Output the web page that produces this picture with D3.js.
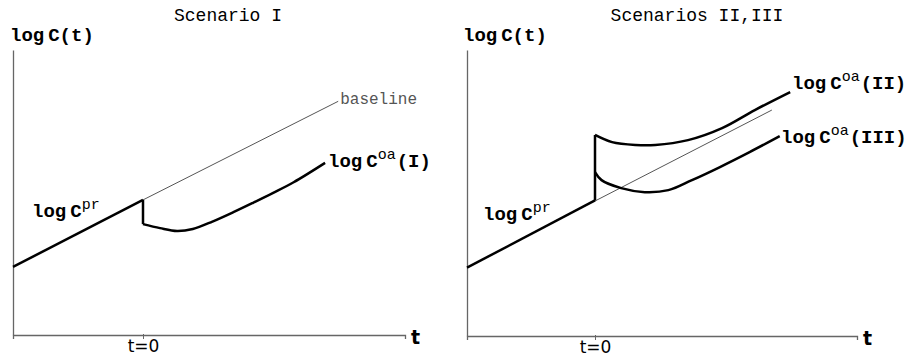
<!DOCTYPE html>
<html>
<head>
<meta charset="utf-8">
<script src="https://cdn.jsdelivr.net/npm/d3@7"></script>
<style>
  html, body { margin: 0; padding: 0; background: #fff; }
  svg { display: block; }
  .mono { font-family: "Liberation Mono", "Courier New", monospace; }
  .sans { font-family: "DejaVu Sans", "Liberation Sans", Arial, sans-serif; }
</style>
</head>
<body>
<svg id="chart" width="908" height="357"></svg>
<script>
// ---- data (t in time units, value = log C on an arbitrary scale 0..10) ----
const tDomain = [-1, 0, 2];
const logCDomain = [0, 10];

// pre-intervention trend, shared by both scenarios
const preT     = [-1, 0];
const preLogC  = [2.39, 4.74];

// Scenario I
const baseI_t    = [0, 1.49];
const baseI_logC = [4.74, 8.2];
const oaI_t      = [0, 0.13, 0.26, 0.38, 0.53, 0.69, 0.84, 0.99, 1.15, 1.39];
const oaI_logC   = [3.89, 3.75, 3.65, 3.72, 3.98, 4.31, 4.64, 4.98, 5.36, 6.04];

// Scenarios II and III
const baseII_t    = [0, 1.35];
const baseII_logC = [4.72, 7.9];
const oaII_t      = [0, 0.13, 0.31, 0.46, 0.71, 0.97, 1.22, 1.49];
const oaII_logC   = [7.03, 6.78, 6.68, 6.68, 6.85, 7.27, 7.9, 8.53];
const oaIII_t     = [0, 0.05, 0.2, 0.38, 0.56, 0.74, 0.95, 1.18, 1.41];
const oaIII_logC  = [5.73, 5.45, 5.17, 5.03, 5.1, 5.45, 5.9, 6.43, 6.99];

const tickLabels = ["t=0"];

// ---- drawing ----
const svg = d3.select("#chart");
const zip = (ts, vs) => ts.map((t, i) => [t, vs[i]]);

const panels = [
  {
    title: "Scenario I", titleX: 228,
    x: [13, 143, 405], y: [335, 50],
    base: zip(baseI_t, baseI_logC), baseLabel: "baseline",
    curves: [{ pts: zip(oaI_t, oaI_logC), label: "(I)", lx: 328, ly: 167 }],
    prLabel: { x: 32, y: 217 }, yLabelX: 10
  },
  {
    title: "Scenarios II,III", titleX: 697,
    x: [467, 595, 857], y: [336, 50],
    base: zip(baseII_t, baseII_logC), baseLabel: null,
    curves: [
      { pts: zip(oaII_t, oaII_logC), label: "(II)", lx: 792, ly: 89 },
      { pts: zip(oaIII_t, oaIII_logC), label: "(III)", lx: 781, ly: 143 }
    ],
    prLabel: { x: 483, y: 220 }, yLabelX: 463
  }
];

function logCLabel(g, x, y, sup, suffix) {
  const t = g.append("text").attr("class", "mono")
    .attr("x", x).attr("y", y)
    .attr("font-size", 19).attr("font-weight", "bold").attr("fill", "#000");
  t.append("tspan").text("log");
  t.append("tspan").attr("dx", 4).text("C");
  t.append("tspan").attr("dy", -8).attr("font-size", 15).attr("font-weight", "normal").text(sup);
  if (suffix) t.append("tspan").attr("dy", 8).attr("dx", 1).attr("font-size", 19).text(suffix);
}

panels.forEach(p => {
  const g = svg.append("g");
  const xs = d3.scaleLinear().domain(tDomain).range(p.x);
  const ys = d3.scaleLinear().domain(logCDomain).range(p.y);

  // axes
  const xAxis = d3.axisBottom(xs).tickValues([0]).tickFormat(() => tickLabels[0])
    .tickSizeOuter(0).tickSize(4);
  const xg = g.append("g").attr("transform", `translate(0,${p.y[0]})`).call(xAxis);
  xg.select(".domain").attr("stroke", "#666").attr("stroke-width", 1.3);
  xg.selectAll(".tick line").attr("stroke", "#666").attr("y1", -1);
  xg.selectAll(".tick text").attr("class", "sans").attr("font-size", 17)
    .attr("fill", "#000").attr("y", 5);

  const yAxis = d3.axisLeft(ys).tickValues([]).tickSizeOuter(0);
  const yg = g.append("g").attr("transform", `translate(${p.x[0]},0)`).call(yAxis);
  yg.select(".domain").attr("stroke", "#666").attr("stroke-width", 1.3);

  // axis titles
  g.append("text").attr("class", "sans").attr("x", p.x[2] + 6).attr("y", p.y[0] + 9)
    .attr("font-size", 19).attr("font-weight", "bold").text("t");
  const yl = g.append("text").attr("class", "mono").attr("x", p.yLabelX).attr("y", 41)
    .attr("font-size", 19).attr("font-weight", "bold");
  yl.append("tspan").text("log");
  yl.append("tspan").attr("dx", 4).text("C(t)");

  // panel title
  g.append("text").attr("class", "mono").attr("x", p.titleX).attr("y", 21)
    .attr("text-anchor", "middle").attr("font-size", 18).text(p.title);

  const line = d3.line().x(d => xs(d[0])).y(d => ys(d[1]));
  const smooth = d3.line().x(d => xs(d[0])).y(d => ys(d[1])).curve(d3.curveCatmullRom.alpha(0.5));

  // baseline continuation of the pre-trend
  g.append("path").attr("d", line(p.base)).attr("fill", "none")
    .attr("stroke", "#555").attr("stroke-width", 1);
  if (p.baseLabel) {
    const end = p.base[p.base.length - 1];
    g.append("text").attr("class", "mono").attr("x", xs(end[0]) + 2).attr("y", ys(end[1]) + 3)
      .attr("font-size", 16).attr("fill", "#555").text(p.baseLabel);
  }

  // pre-intervention trend
  const pre = zip(preT, preLogC);
  g.append("path").attr("d", line(pre)).attr("fill", "none")
    .attr("stroke", "#000").attr("stroke-width", 2.5);

  // jump at t=0 to the farthest post-intervention start
  const starts = p.curves.map(c => c.pts[0]);
  const top = starts.reduce((a, b) => (Math.abs(b[1] - pre[1][1]) > Math.abs(a[1] - pre[1][1]) ? b : a));
  g.append("path").attr("d", line([pre[1], top])).attr("fill", "none")
    .attr("stroke", "#000").attr("stroke-width", 2.5);

  p.curves.forEach(c => {
    g.append("path").attr("d", smooth(c.pts)).attr("fill", "none")
      .attr("stroke", "#000").attr("stroke-width", 2.5);
    logCLabel(g, c.lx, c.ly, "oa", c.label);
  });

  logCLabel(g, p.prLabel.x, p.prLabel.y, "pr", null);
});
</script>
</body>
</html>
